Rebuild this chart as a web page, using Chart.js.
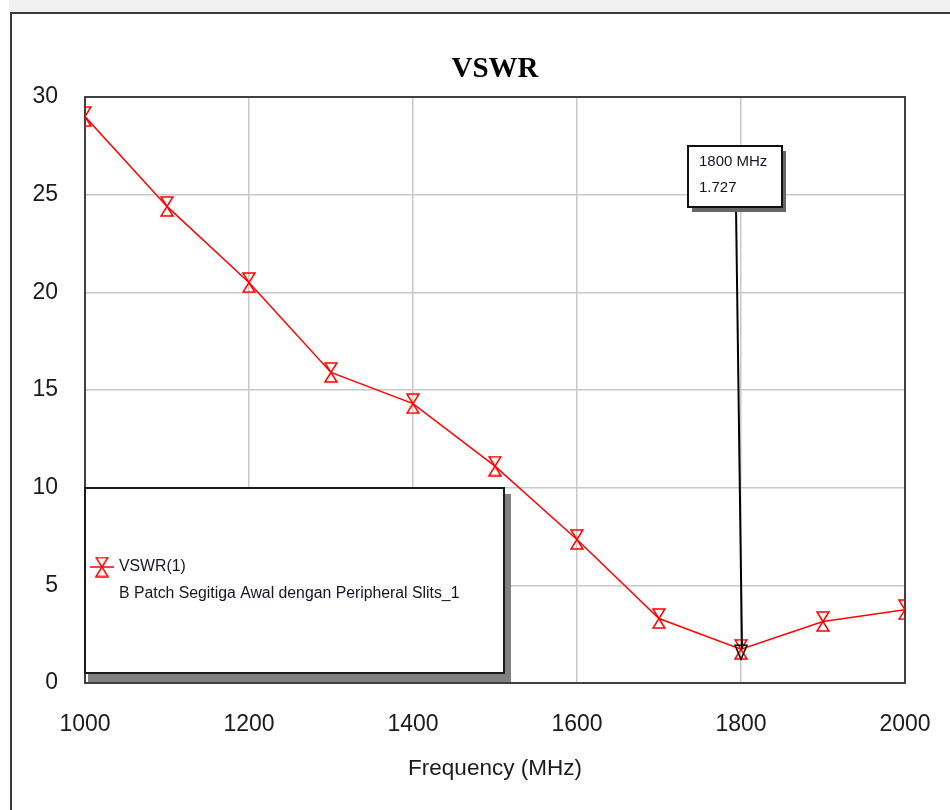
<!DOCTYPE html>
<html lang="en">
<head>
  <meta charset="UTF-8">
  <title>VSWR</title>
  <style>
    html, body {
      margin: 0;
      padding: 0;
      background: #fff;
    }

    body {
      width: 950px;
      height: 810px;
      position: relative;
      overflow: hidden;
    }

    .top-band {
      position: absolute;
      left: 9px;
      top: 0;
      width: 941px;
      height: 12px;
      background: #f0f0f0;
    }

    .frame {
      position: absolute;
      left: 10px;
      top: 12px;
      width: 1000px;
      height: 900px;
      border-top: 2px solid #3c3c3c;
      border-left: 2px solid #3c3c3c;
    }

    .chart-container {
      position: absolute;
      left: 0;
      top: 0;
      width: 950px;
      height: 810px;
    }
  </style>
</head>
<body>
  <div class="top-band"></div>
  <div class="frame"></div>
  <div class="chart-container">
    <canvas id="vswrChart"></canvas>
  </div>

  <script src="https://cdn.jsdelivr.net/npm/chart.js"></script>
  <script>
    // values
    const freqs = [1000, 1100, 1200, 1300, 1400, 1500, 1600, 1700, 1800, 1900, 2000];
    const vswr = [29.0, 24.4, 20.5, 15.9, 14.3, 11.1, 7.35, 3.3, 1.727, 3.15, 3.75];
    const xTicks = [1000, 1200, 1400, 1600, 1800, 2000];
    const yTicks = [0, 5, 10, 15, 20, 25, 30];
    const markerFreq = 1800;
    const markerValue = 1.727;
    const markerLabel = ['1800 MHz', '1.727'];
    const legendLabels = ['VSWR(1)', 'B Patch Segitiga Awal dengan Peripheral Slits_1'];

    const textFont = "'Liberation Sans', Arial, sans-serif";

    // hourglass marker like the one in the original plot
    function hourglass(w, h, color) {
      const c = document.createElement('canvas');
      c.width = w + 2;
      c.height = h + 2;
      const g = c.getContext('2d');
      const l = 1, r = w + 1, t = 1, b = h + 1, cx = c.width / 2, cy = c.height / 2;
      g.strokeStyle = color;
      g.lineWidth = 1.5;
      g.beginPath();
      g.moveTo(l, t); g.lineTo(r, t); g.lineTo(cx, cy); g.closePath();
      g.moveTo(l, b); g.lineTo(r, b); g.lineTo(cx, cy); g.closePath();
      g.stroke();
      return c;
    }

    const pointImg = hourglass(12, 19, '#ff0000');

    const plotFrame = {
      id: 'plotFrame',
      beforeDatasetsDraw(chart) {
        const { ctx, chartArea: a } = chart;
        ctx.save();
        ctx.strokeStyle = '#404040';
        ctx.lineWidth = 2;
        ctx.strokeRect(a.left, a.top, a.right - a.left, a.bottom - a.top);
        ctx.restore();
      }
    };

    const legendBox = {
      id: 'legendBox',
      afterDatasetsDraw(chart) {
        const { ctx, chartArea: a } = chart;
        const left = a.left, top = 488, w = 419, h = 185;
        ctx.save();
        ctx.fillStyle = '#808080';
        ctx.fillRect(left + 3, top + 6, w + 4, h + 3);
        ctx.fillStyle = '#fff';
        ctx.fillRect(left, top, w, h);
        ctx.strokeStyle = '#1a1a1a';
        ctx.lineWidth = 2;
        ctx.strokeRect(left, top, w, h);

        const sy = 567;
        ctx.strokeStyle = '#ff0000';
        ctx.lineWidth = 1.5;
        ctx.beginPath();
        ctx.moveTo(left + 5, sy);
        ctx.lineTo(left + 29, sy);
        ctx.stroke();
        ctx.drawImage(pointImg, left + 17 - pointImg.width / 2, sy - pointImg.height / 2);

        ctx.fillStyle = '#141428';
        ctx.font = '15.8px ' + textFont;
        ctx.textBaseline = 'middle';
        ctx.textAlign = 'left';
        ctx.fillText(legendLabels[0], left + 34, sy);
        ctx.fillText(legendLabels[1], left + 34, sy + 27);
        ctx.restore();
      }
    };

    const markerNote = {
      id: 'markerNote',
      afterDatasetsDraw(chart) {
        const { ctx, scales } = chart;
        const px = scales.x.getPixelForValue(markerFreq);
        const py = scales.y.getPixelForValue(markerValue);
        const bx = 688, by = 146, bw = 94, bh = 61;
        ctx.save();
        // leader line
        ctx.strokeStyle = '#000';
        ctx.lineWidth = 2;
        ctx.beginPath();
        ctx.moveTo(bx + 48, by + bh);
        ctx.lineTo(px + 1, py);
        ctx.stroke();
        // marker triangle
        ctx.lineWidth = 1.5;
        ctx.beginPath();
        ctx.moveTo(px - 6, py - 4);
        ctx.lineTo(px + 6, py - 4);
        ctx.lineTo(px, py + 10);
        ctx.closePath();
        ctx.stroke();
        // box with shadow
        ctx.fillStyle = '#666';
        ctx.fillRect(bx + 4, by + 5, bw, bh);
        ctx.fillStyle = '#fff';
        ctx.fillRect(bx, by, bw, bh);
        ctx.strokeStyle = '#111';
        ctx.lineWidth = 2;
        ctx.strokeRect(bx, by, bw, bh);
        ctx.fillStyle = '#141428';
        ctx.font = '15px ' + textFont;
        ctx.textBaseline = 'middle';
        ctx.textAlign = 'left';
        ctx.fillText(markerLabel[0], bx + 11, by + 16);
        ctx.fillText(markerLabel[1], bx + 11, by + 42);
        ctx.restore();
      }
    };

    const ctx1 = document.getElementById('vswrChart').getContext('2d');
    new Chart(ctx1, {
      type: 'line',
      data: {
        datasets: [{
          label: legendLabels[0],
          data: freqs.map((f, i) => ({ x: f, y: vswr[i] })),
          borderColor: '#ff0000',
          borderWidth: 1.5,
          pointStyle: pointImg,
          pointRadius: 8,
          tension: 0,
          fill: false
        }]
      },
      options: {
        responsive: true,
        maintainAspectRatio: false,
        animation: false,
        layout: {
          padding: { left: 0, right: 45, top: 0, bottom: 0 }
        },
        scales: {
          x: {
            type: 'linear',
            min: 1000,
            max: 2000,
            afterFit: s => {
              s.height = 127;
              s.paddingLeft = 0;
              s.paddingRight = 0;
            },
            afterBuildTicks: s => { s.ticks = xTicks.map(v => ({ value: v })); },
            grid: { color: '#c8c8c8', lineWidth: 1.5, drawTicks: false },
            border: { display: false },
            ticks: {
              color: '#1a1a1a',
              padding: 28,
              maxRotation: 0,
              callback: v => String(v),
              font: { family: textFont, size: 23 }
            },
            title: {
              display: true,
              text: 'Frequency (MHz)',
              color: '#1a1a1a',
              font: { family: textFont, size: 22.5 },
              padding: { top: 0, bottom: 28 }
            }
          },
          y: {
            min: 0,
            max: 30,
            afterFit: s => { s.width = 85; },
            afterBuildTicks: s => { s.ticks = yTicks.map(v => ({ value: v })); },
            grid: { color: '#c8c8c8', lineWidth: 1.5, drawTicks: false },
            border: { display: false },
            ticks: {
              color: '#1a1a1a',
              padding: 27,
              callback: v => String(v),
              font: { family: textFont, size: 23 }
            }
          }
        },
        plugins: {
          legend: { display: false },
          tooltip: { enabled: false },
          title: {
            display: true,
            text: 'VSWR',
            fullSize: false,
            color: '#000',
            font: { family: "'Liberation Serif', 'Times New Roman', serif", size: 29, weight: 'bold' },
            padding: { top: 52, bottom: 10.2 }
          }
        }
      },
      plugins: [plotFrame, legendBox, markerNote]
    });
  </script>
</body>
</html>
